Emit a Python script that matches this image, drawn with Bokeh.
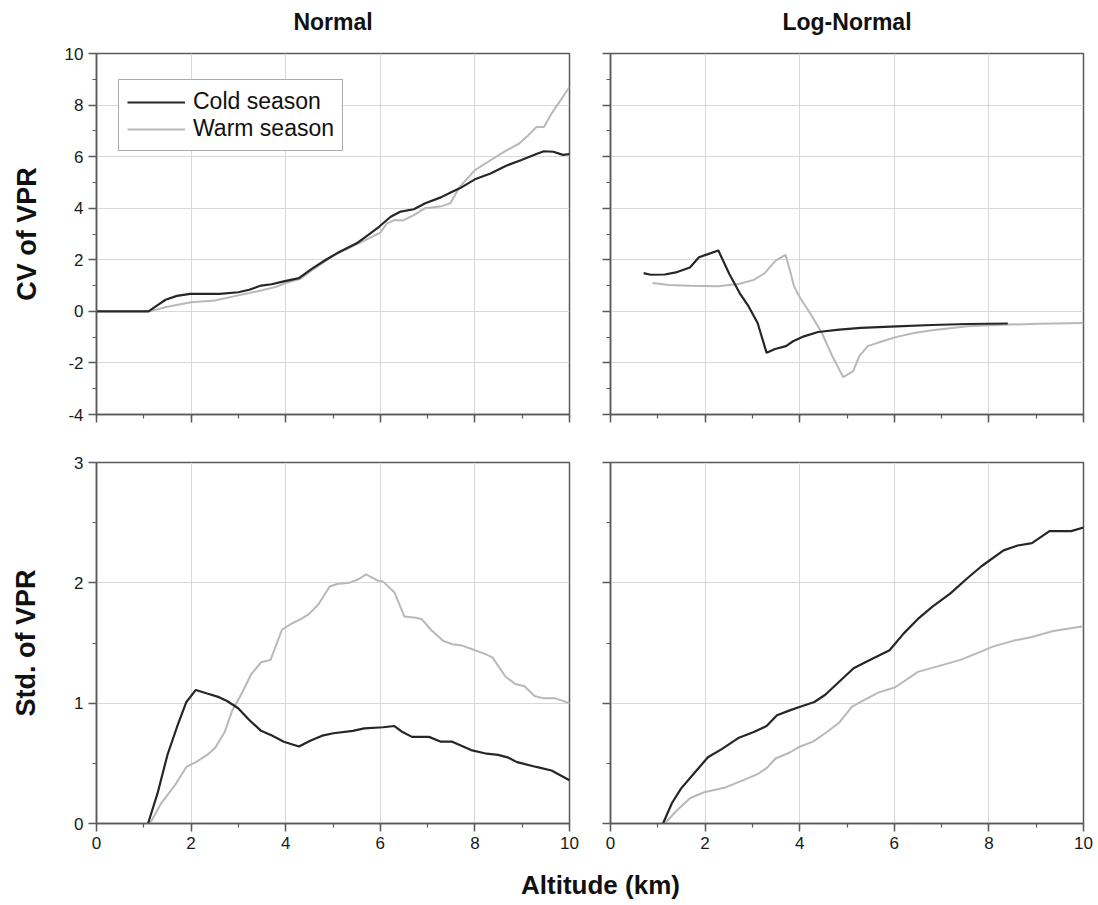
from bokeh.plotting import figure
from bokeh.layouts import column, row
from bokeh.models import Range1d, SingleIntervalTicker, Legend, LegendItem, CustomJSTickFormatter
from bokeh.embed import file_html
from bokeh.resources import INLINE
from bokeh.core.properties import value

# ---------------- data ----------------
titles = ["Normal", "Log-Normal"]
series_names = ["Cold season", "Warm season"]

# CV of VPR, Normal
cv_norm_cold_x = [0, 1.1, 1.3, 1.46, 1.7, 1.98, 2.3, 2.6, 3.0, 3.23, 3.48, 3.7, 3.96, 4.28, 4.55, 4.85, 5.09, 5.5, 5.74, 5.98, 6.22, 6.43, 6.71, 6.95, 7.28, 7.52, 7.68, 8.0, 8.33, 8.65, 8.97, 9.3, 9.46, 9.66, 9.86, 10]
cv_norm_cold_y = [0, 0, 0.25, 0.45, 0.6, 0.68, 0.68, 0.68, 0.74, 0.84, 1.0, 1.05, 1.16, 1.29, 1.65, 2.0, 2.26, 2.64, 2.96, 3.29, 3.67, 3.87, 3.96, 4.19, 4.42, 4.64, 4.77, 5.12, 5.35, 5.64, 5.86, 6.1, 6.21, 6.19, 6.07, 6.1]
cv_norm_warm_x = [0, 1.12, 1.5, 2.0, 2.5, 3.0, 3.5, 3.8, 4.0, 4.3, 4.6, 5.0, 5.5, 6.0, 6.14, 6.3, 6.47, 6.7, 6.95, 7.3, 7.48, 7.68, 8.0, 8.33, 8.65, 8.93, 9.13, 9.3, 9.46, 9.62, 10]
cv_norm_warm_y = [0, 0, 0.18, 0.35, 0.42, 0.62, 0.82, 0.95, 1.1, 1.25, 1.65, 2.15, 2.6, 3.05, 3.41, 3.54, 3.52, 3.72, 4.0, 4.08, 4.19, 4.83, 5.48, 5.86, 6.22, 6.5, 6.83, 7.15, 7.15, 7.67, 8.7]

# CV of VPR, Log-Normal
cv_log_cold_x = [0.70, 0.85, 1.15, 1.38, 1.68, 1.87, 2.06, 2.28, 2.51, 2.73, 2.92, 3.11, 3.30, 3.48, 3.71, 3.86, 4.09, 4.39, 4.84, 5.29, 6.05, 6.8, 7.55, 8.4]
cv_log_cold_y = [1.48, 1.42, 1.43, 1.51, 1.70, 2.10, 2.22, 2.36, 1.46, 0.71, 0.19, -0.45, -1.61, -1.46, -1.35, -1.16, -0.97, -0.80, -0.71, -0.64, -0.58, -0.53, -0.49, -0.47]
cv_log_warm_x = [0.89, 1.23, 1.68, 2.28, 2.73, 3.03, 3.26, 3.49, 3.70, 3.79, 3.88, 4.01, 4.24, 4.47, 4.69, 4.92, 5.13, 5.26, 5.44, 5.75, 6.05, 6.42, 6.8, 7.55, 8.3, 9.06, 10]
cv_log_warm_y = [1.10, 1.02, 0.99, 0.97, 1.07, 1.22, 1.48, 1.97, 2.19, 1.61, 0.97, 0.52, -0.13, -0.84, -1.74, -2.55, -2.32, -1.74, -1.35, -1.16, -0.99, -0.84, -0.73, -0.58, -0.52, -0.48, -0.45]

# Std. of VPR, Normal
sd_norm_cold_x = [1.09, 1.29, 1.50, 1.70, 1.90, 2.10, 2.34, 2.59, 2.75, 2.99, 3.23, 3.48, 3.72, 3.96, 4.28, 4.53, 4.77, 5.01, 5.42, 5.66, 6.06, 6.3, 6.47, 6.67, 7.03, 7.28, 7.52, 7.92, 8.25, 8.49, 8.69, 8.89, 9.3, 9.62, 10]
sd_norm_cold_y = [0, 0.25, 0.57, 0.80, 1.01, 1.11, 1.08, 1.05, 1.02, 0.96, 0.86, 0.77, 0.73, 0.68, 0.64, 0.69, 0.73, 0.75, 0.77, 0.79, 0.80, 0.81, 0.76, 0.72, 0.72, 0.68, 0.68, 0.61, 0.58, 0.57, 0.55, 0.51, 0.47, 0.44, 0.36]
sd_norm_warm_x = [1.13, 1.37, 1.66, 1.90, 2.10, 2.34, 2.51, 2.71, 2.87, 3.07, 3.27, 3.48, 3.68, 3.92, 4.12, 4.33, 4.49, 4.69, 4.93, 5.09, 5.34, 5.54, 5.70, 5.94, 6.06, 6.3, 6.51, 6.75, 6.87, 7.07, 7.32, 7.52, 7.72, 8.0, 8.21, 8.37, 8.65, 8.85, 9.05, 9.26, 9.46, 9.7, 10]
sd_norm_warm_y = [0, 0.17, 0.32, 0.47, 0.51, 0.57, 0.63, 0.76, 0.94, 1.08, 1.24, 1.34, 1.36, 1.61, 1.66, 1.70, 1.74, 1.82, 1.97, 1.99, 2.00, 2.03, 2.07, 2.02, 2.01, 1.92, 1.72, 1.71, 1.70, 1.61, 1.52, 1.49, 1.48, 1.44, 1.41, 1.38, 1.22, 1.16, 1.14, 1.06, 1.04, 1.04, 1.0]

# Std. of VPR, Log-Normal
sd_log_cold_x = [1.11, 1.30, 1.49, 1.75, 2.06, 2.36, 2.70, 3.03, 3.30, 3.52, 3.79, 4.01, 4.31, 4.54, 4.84, 5.14, 5.44, 5.90, 6.2, 6.5, 6.8, 7.18, 7.55, 7.85, 8.31, 8.61, 8.91, 9.28, 9.74, 10]
sd_log_cold_y = [0, 0.17, 0.29, 0.41, 0.55, 0.62, 0.71, 0.76, 0.81, 0.90, 0.94, 0.97, 1.01, 1.07, 1.18, 1.29, 1.35, 1.44, 1.58, 1.70, 1.80, 1.91, 2.04, 2.14, 2.27, 2.31, 2.33, 2.43, 2.43, 2.46]
sd_log_warm_x = [1.15, 1.38, 1.68, 1.98, 2.43, 2.81, 3.11, 3.30, 3.49, 3.79, 4.01, 4.28, 4.54, 4.84, 5.1, 5.29, 5.67, 6.01, 6.2, 6.5, 6.95, 7.4, 7.78, 8.08, 8.53, 8.91, 9.36, 10]
sd_log_warm_y = [0, 0.10, 0.21, 0.26, 0.30, 0.36, 0.41, 0.46, 0.54, 0.59, 0.64, 0.68, 0.75, 0.84, 0.97, 1.01, 1.09, 1.13, 1.18, 1.26, 1.31, 1.36, 1.42, 1.47, 1.52, 1.55, 1.60, 1.64]

x_label = "Altitude (km)"
y_labels = ["CV of VPR", "Std. of VPR"]

# ---------------- style ----------------
FONT = "Liberation Sans"
COLD = "#262626"
WARM = "#b8b8b8"
AXIS = "#5a5a5a"
GRID = "#d8d8d8"
FW, FH = 473, 361
LEFT_L, LEFT_R, RIGHT_L, RIGHT_R = 96, 12, 29, 12
TOTAL_W = LEFT_L + FW + LEFT_R + RIGHT_L + FW + RIGHT_R
HEAD_H = 43
FOOT_H = 40


def make_fig(yr, yint, left, right, top, bottom,
             xlabels=False, ylabels=False, ylabel=None, ylabel_standoff=20):
    p = figure(frame_width=FW, frame_height=FH,
               x_range=Range1d(0, 10), y_range=Range1d(*yr),
               output_backend="svg", toolbar_location=None,
               min_border_left=left, min_border_right=right,
               min_border_top=top, min_border_bottom=bottom,
               background_fill_color="white", border_fill_color="white")
    p.outline_line_color = AXIS
    p.outline_line_width = 1.5
    p.outline_line_alpha = 1
    p.xaxis.ticker = SingleIntervalTicker(interval=2, num_minor_ticks=2)
    p.yaxis.ticker = SingleIntervalTicker(interval=yint, num_minor_ticks=2)
    for ax in (p.xaxis[0], p.yaxis[0]):
        ax.formatter = CustomJSTickFormatter(code="return tick.toFixed(0);")
        ax.axis_line_color = AXIS
        ax.axis_line_width = 1.5
        ax.major_tick_line_color = AXIS
        ax.major_tick_line_width = 1.5
        ax.minor_tick_line_color = AXIS
        ax.minor_tick_line_width = 1.2
        ax.major_tick_out = 8
        ax.major_tick_in = 0
        ax.minor_tick_out = 4
        ax.minor_tick_in = 0
        ax.major_label_text_font = FONT
        ax.major_label_text_font_size = "17px"
        ax.major_label_text_color = "#1a1a1a"
        ax.major_label_standoff = 5
    if not xlabels:
        p.xaxis.major_label_text_color = None
        p.xaxis.major_label_text_font_size = "6px"
    if not ylabels:
        p.yaxis.major_label_text_color = None
        p.yaxis.major_label_text_font_size = "6px"
    if ylabel:
        p.yaxis.axis_label = ylabel
        p.yaxis.axis_label_text_font = FONT
        p.yaxis.axis_label_text_font_size = "27px"
        p.yaxis.axis_label_text_font_style = "bold"
        p.yaxis.axis_label_text_color = "#111111"
        p.yaxis.axis_label_standoff = ylabel_standoff
    p.grid.grid_line_color = GRID
    p.grid.grid_line_width = 1
    return p


tl = make_fig((-4, 10), 2, LEFT_L, LEFT_R, 10, 38, ylabels=True,
              ylabel=y_labels[0], ylabel_standoff=20)
tr = make_fig((-4, 10), 2, RIGHT_L, RIGHT_R, 10, 38)
bl = make_fig((0, 3), 1, LEFT_L, LEFT_R, 10, 38, xlabels=True, ylabels=True,
              ylabel=y_labels[1], ylabel_standoff=30)
br = make_fig((0, 3), 1, RIGHT_L, RIGHT_R, 10, 38, xlabels=True)

r_w = tl.line(cv_norm_warm_x, cv_norm_warm_y, line_color=WARM, line_width=2)
r_c = tl.line(cv_norm_cold_x, cv_norm_cold_y, line_color=COLD, line_width=2.2)

tr.line(cv_log_warm_x, cv_log_warm_y, line_color=WARM, line_width=2)
tr.line(cv_log_cold_x, cv_log_cold_y, line_color=COLD, line_width=2.2)

bl.line(sd_norm_warm_x, sd_norm_warm_y, line_color=WARM, line_width=2)
bl.line(sd_norm_cold_x, sd_norm_cold_y, line_color=COLD, line_width=2.2)

br.line(sd_log_warm_x, sd_log_warm_y, line_color=WARM, line_width=2)
br.line(sd_log_cold_x, sd_log_cold_y, line_color=COLD, line_width=2.2)

legend = Legend(items=[LegendItem(label=series_names[0], renderers=[r_c]),
                       LegendItem(label=series_names[1], renderers=[r_w])],
                location=(22, 263))
legend.label_text_font = FONT
legend.label_text_font_size = "23px"
legend.label_text_color = "#111111"
legend.glyph_width = 58
legend.glyph_height = 20
legend.label_height = 20
legend.label_standoff = 8
legend.spacing = 0
legend.padding = 8
legend.margin = 0
legend.border_line_color = AXIS
legend.border_line_width = 1.5
legend.background_fill_color = "white"
legend.background_fill_alpha = 1
tl.add_layout(legend)


def text_fig(height):
    f = figure(width=TOTAL_W, height=height, x_range=Range1d(0, TOTAL_W),
               y_range=Range1d(0, height), output_backend="svg",
               toolbar_location=None, min_border=0)
    f.axis.visible = False
    f.grid.visible = False
    f.outline_line_color = None
    return f


head = text_fig(HEAD_H)
c1 = LEFT_L + FW / 2
c2 = LEFT_L + FW + LEFT_R + RIGHT_L + FW / 2
head.text(x=[c1, c2], y=[22, 22], text=titles, text_font=value(FONT),
          text_font_style="bold", text_font_size="23px", text_align="center",
          text_baseline="alphabetic", text_color="#111111")

foot = text_fig(FOOT_H)
foot.text(x=[600], y=[17], text=[x_label], text_font=value(FONT), text_font_style="bold",
          text_font_size="26px", text_align="center", text_baseline="alphabetic",
          text_color="#111111")

layout = column(head, row(tl, tr), row(bl, br), foot)
open("out.html", "w").write(file_html(layout, INLINE))
